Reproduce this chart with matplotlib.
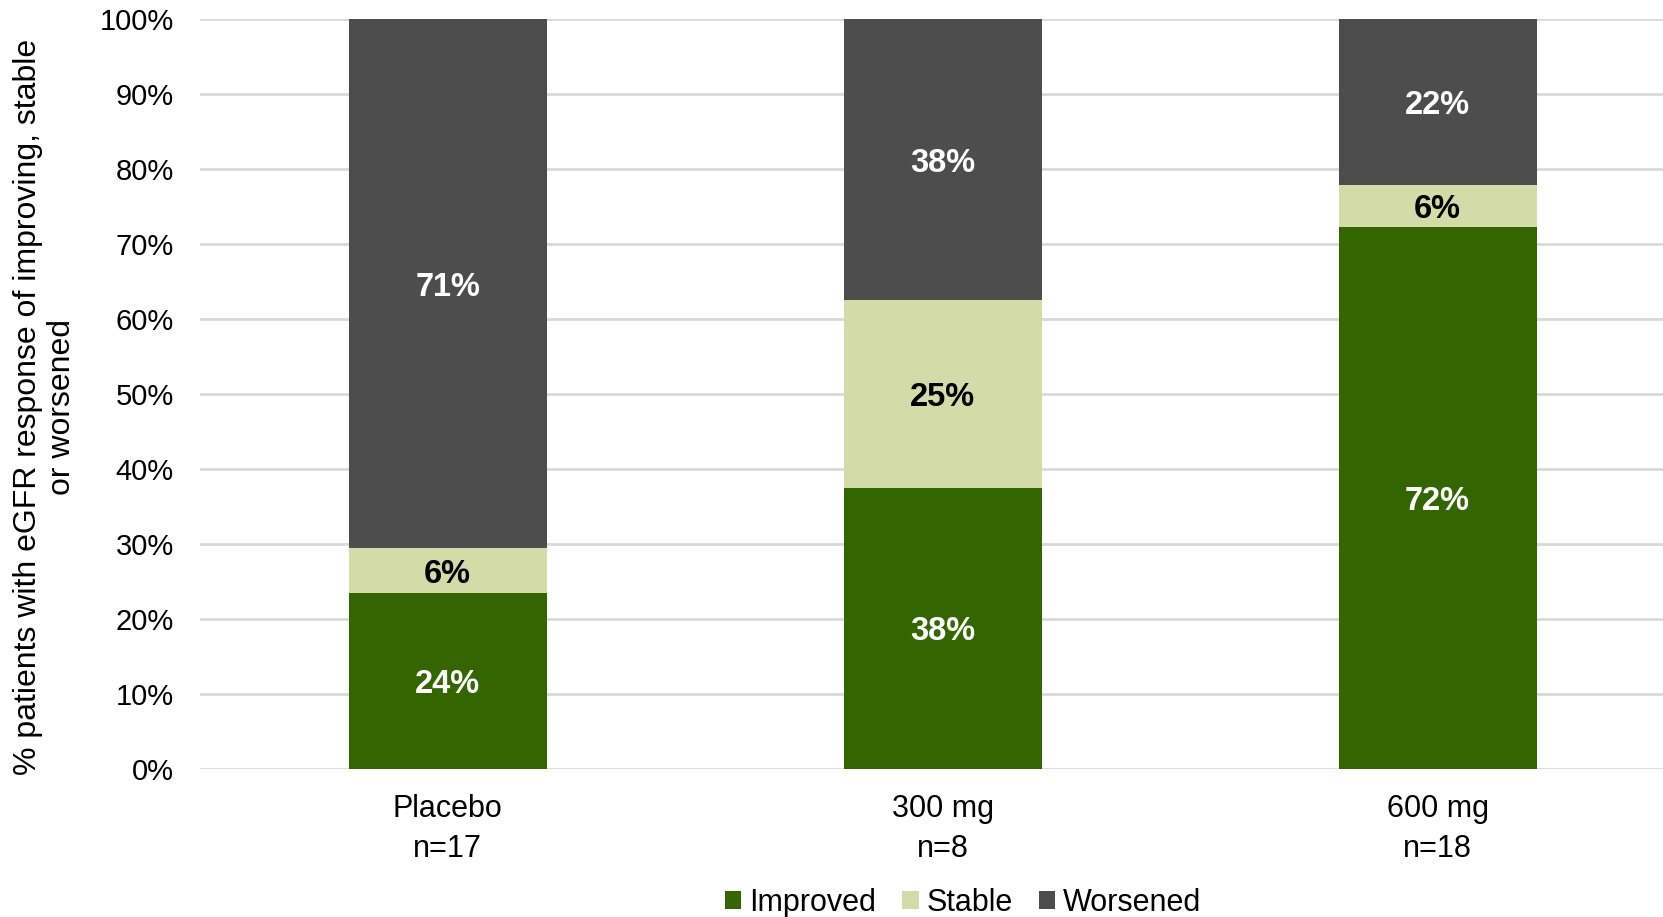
import matplotlib.pyplot as plt
import numpy as np

plt.rcParams['font.family'] = ['Liberation Sans', 'DejaVu Sans']

groups = ['Placebo\nn=17', '300 mg\nn=8', '600 mg\nn=18']
improved = [23.5, 37.5, 72.2]
stable = [5.9, 25.0, 5.6]
worsened = [70.6, 37.5, 22.2]

series = [('Improved', improved, '#336600', 'white'),
          ('Stable', stable, '#D3DBA8', 'black'),
          ('Worsened', worsened, '#4D4D4D', 'white')]

fig = plt.figure(figsize=(16.63, 9.17), dpi=100)
ax = fig.add_axes([0.1203, 0.1614, 0.893, 0.818])

x = np.arange(len(groups))
bottom = np.zeros(len(groups))
for name, vals, color, txt in series:
    vals = np.array(vals)
    ax.bar(x, vals, width=0.4, bottom=bottom, color=color, label=name, zorder=2)
    for xi, b, v in zip(x, bottom, vals):
        ax.text(xi, b + v / 2, f'{v:.0f}%', ha='center', va='center_baseline',
                color=txt, fontsize=23.5, fontweight='bold', zorder=3)
    bottom += vals

ax.set_xlim(-0.5, 2.5)
ax.set_ylim(0, 100)
ax.set_yticks(np.arange(0, 101, 10))
ax.set_yticklabels([f'{t}%' for t in range(0, 101, 10)])
ax.yaxis.grid(True, color='#D9D9D9', linewidth=2, zorder=0)
ax.set_axisbelow(True)
ax.set_xticks(x)
ax.set_xticklabels(groups, linespacing=1.45)
ax.tick_params(axis='y', length=0, labelsize=21, pad=19)
ax.tick_params(axis='x', length=0, labelsize=22, pad=18)
for s in ax.spines.values():
    s.set_visible(False)

fig.text(0.027, 0.556, '% patients with eGFR response of improving, stable\nor worsened',
         rotation=90, ha='center', va='center', fontsize=23, linespacing=1.2)

fig.legend(loc='center', bbox_to_anchor=(963 / 1663, 1 - 903 / 917), ncol=3,
           frameon=False, fontsize=22, handlelength=0.55, handleheight=0.55,
           handletextpad=0.25, columnspacing=0.85)

fig.savefig('out.png', dpi=100)
